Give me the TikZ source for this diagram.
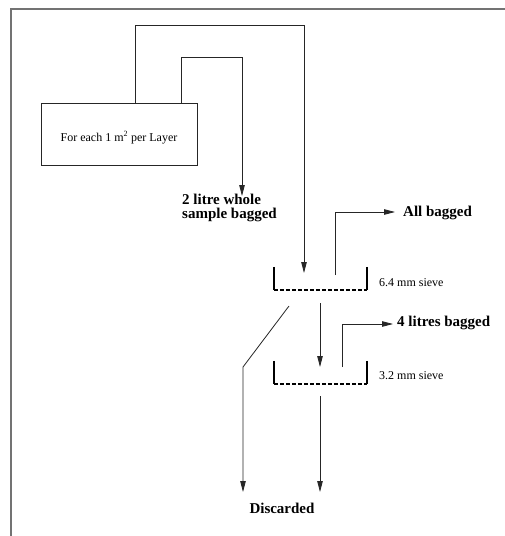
\documentclass[tikz,border=0pt]{standalone}
\usepackage{fontspec}
\setmainfont{Liberation Serif}
\usetikzlibrary{arrows.meta}
\begin{document}
\begin{tikzpicture}[x=1pt,y=-1pt,
  conn/.style={draw=black!85, line width=0.8pt},
  arr/.style={conn, -{Triangle[length=11pt,width=5.5pt]}},
  boldlbl/.style={font=\fontsize{15}{14}\selectfont\bfseries, inner sep=0pt, anchor=base west, align=left},
  smalllbl/.style={font=\fontsize{12}{14}\selectfont, inner sep=0pt, anchor=base west},
  sievebox/.style={minimum width=93pt, minimum height=23pt, inner sep=0pt},
  sievewall/.style={draw=black, line width=2pt},
  sievemesh/.style={draw=black, line width=1.6pt, dash pattern=on 4pt off 2pt},
]
\useasboundingbox (0,0) rectangle (504,536);
\fill[white] (0,0) rectangle (504,536);
\draw[black!55, line width=1.2pt] (11,540) -- (11,9) -- (510,9);

% source box
\node[draw=black!85, line width=0.8pt, minimum width=156pt, minimum height=62pt, inner sep=0pt,
      text height=14pt, text depth=0pt,
      font=\fontsize{12}{14}\selectfont] (box) at (119,134) {For each 1 m\textsuperscript{2} per Layer};

% sieves
\node[sievebox] (sieve1) at (320.5,278.5) {};
\node[sievebox] (sieve2) at (320.5,372.5) {};
\foreach \s in {sieve1,sieve2}{
  \draw[sievewall] (\s.north west) -- (\s.south west);
  \draw[sievewall] (\s.north east) -- (\s.south east);
  \draw[sievemesh] (\s.south west) -- (\s.south east);
}

% labels
\node[boldlbl] (whole) at (182,218) {2 litre whole\\sample bagged};
\node[boldlbl] (allbag) at (403,216) {All bagged};
\node[boldlbl] (fourbag) at (397,326) {4 litres bagged};
\node[smalllbl] (lab1) at (379,286) {6.4 mm sieve};
\node[smalllbl] (lab2) at (379,379) {3.2 mm sieve};
\node[font=\fontsize{15}{14}\selectfont\bfseries, inner sep=0pt, anchor=base] (disc) at (282,513) {Discarded};

% coordinates
\coordinate (t1) at (135,103);
\coordinate (c1) at (304,25);
\coordinate (e1) at (304,273);
\coordinate (t2) at (181,103);
\coordinate (c2) at (242,57);
\coordinate (e2) at (242,196);
\coordinate (a1) at (335,275);
\coordinate (a1e) at (395,212);
\coordinate (d1s) at (320,303);
\coordinate (d1e) at (320,367);
\coordinate (g1) at (289,306);
\coordinate (g2) at (243,367);
\coordinate (g3) at (243,492);
\coordinate (b1) at (342,367);
\coordinate (b1e) at (393,324);
\coordinate (d2s) at (320,396);
\coordinate (d2e) at (320,492);

% connectors
\draw[arr] (t1) |- (c1) -- (e1);
\draw[arr] (t2) |- (c2) -- (e2);
\draw[arr] (a1) |- (a1e);
\draw[arr] (d1s) -- (d1e);
\draw[arr] (g1) -- (g2) -- (g3);
\draw[arr] (b1) |- (b1e);
\draw[arr] (d2s) -- (d2e);
\end{tikzpicture}
\end{document}
